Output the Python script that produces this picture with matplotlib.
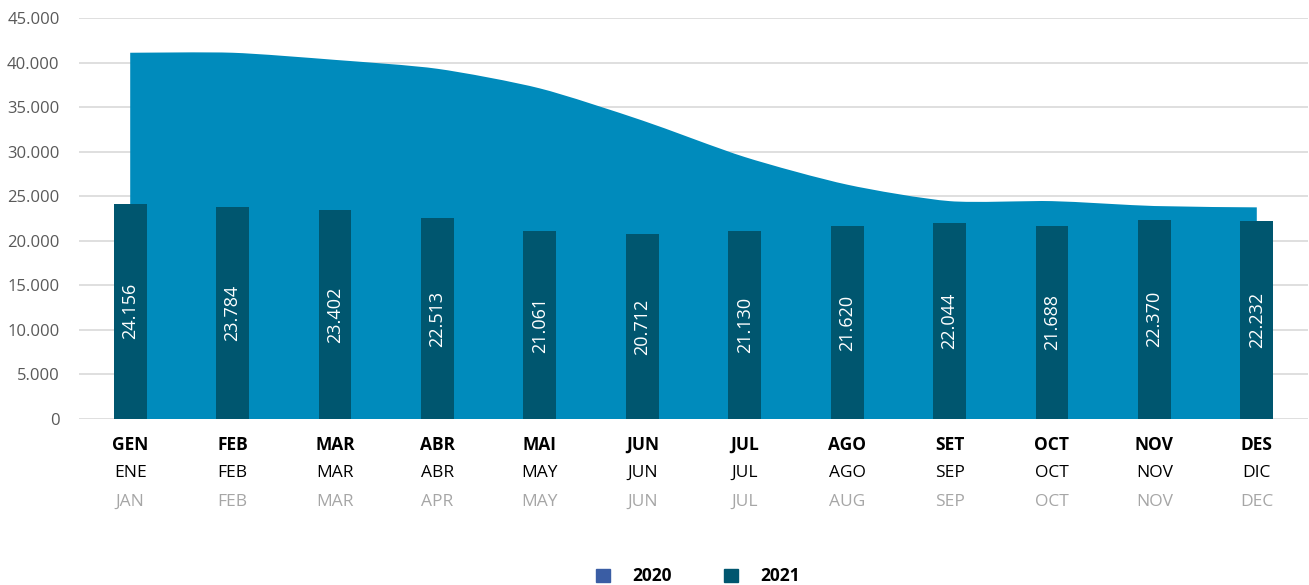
import numpy as np
import matplotlib
matplotlib.use("Agg")
import matplotlib.pyplot as plt
from matplotlib.path import Path
from matplotlib.patches import PathPatch, Patch
from matplotlib.ticker import FuncFormatter, MultipleLocator
from matplotlib.transforms import blended_transform_factory

# dados
meses_cat = ["GEN", "FEB", "MAR", "ABR", "MAI", "JUN", "JUL", "AGO", "SET", "OCT", "NOV", "DES"]
meses_esp = ["ENE", "FEB", "MAR", "ABR", "MAY", "JUN", "JUL", "AGO", "SEP", "OCT", "NOV", "DIC"]
meses_eng = ["JAN", "FEB", "MAR", "APR", "MAY", "JUN", "JUL", "AUG", "SEP", "OCT", "NOV", "DEC"]
valores_2020 = [41100, 41100, 40300, 39300, 37100, 33500, 29400, 26300, 24450, 24450, 23900, 23750]
valores_2021 = [24156, 23784, 23402, 22513, 21061, 20712, 21130, 21620, 22044, 21688, 22370, 22232]

cor_area = "#008BBC"
cor_barra = "#00566F"
cor_leg2020 = "#3A5DA4"

plt.rcParams['font.family'] = ['Open Sans', 'DejaVu Sans']

fig = plt.figure(figsize=(13.09, 5.85), dpi=100)
ax = fig.add_axes([79/1309, 166/585, 1229/1309, 401/585])

x = np.arange(len(meses_cat))
y20 = np.array(valores_2020, dtype=float)

# curva suavizada (bezier) para a area de 2020
verts = [(x[0], 0), (x[0], y20[0])]
codes = [Path.MOVETO, Path.LINETO]
n = len(x)
for i in range(n - 1):
    p0 = np.array([x[max(i - 1, 0)], y20[max(i - 1, 0)]])
    p1 = np.array([x[i], y20[i]])
    p2 = np.array([x[i + 1], y20[i + 1]])
    p3 = np.array([x[min(i + 2, n - 1)], y20[min(i + 2, n - 1)]])
    c1 = p1 + (p2 - p0) / 8
    c2 = p2 - (p3 - p1) / 8
    verts += [tuple(c1), tuple(c2), tuple(p2)]
    codes += [Path.CURVE4] * 3
verts += [(x[-1], 0), (x[0], 0)]
codes += [Path.LINETO, Path.CLOSEPOLY]
ax.add_patch(PathPatch(Path(verts, codes), facecolor=cor_area, edgecolor="none", zorder=2))

bars = ax.bar(x, valores_2021, width=0.32, color=cor_barra, zorder=3)
for xi, v in zip(x, valores_2021):
    ax.text(xi, v / 2, f"{v/1000:.3f}", rotation=90, ha="center", va="center",
            color="white", fontsize=13, zorder=4)

ax.set_xlim(-0.5, n - 0.5)
ax.set_ylim(0, 45000)
ax.yaxis.set_major_locator(MultipleLocator(5000))
ax.yaxis.set_major_formatter(FuncFormatter(lambda v, p: "0" if v == 0 else f"{int(v):,}".replace(",", ".")))
ax.tick_params(axis="y", length=0, labelsize=12, labelcolor="#595959", pad=14)
ax.set_xticks([])
ax.grid(axis="y", color="#D9D9D9", linewidth=1.2, zorder=0)
ax.set_axisbelow(True)
for s in ax.spines.values():
    s.set_visible(False)

# rotulos dos meses em tres idiomas
trans = blended_transform_factory(ax.transData, ax.transAxes)
for xi, a, b, c in zip(x, meses_cat, meses_esp, meses_eng):
    ax.text(xi, -0.065, a, transform=trans, ha="center", va="center", fontsize=12.5,
            fontweight="bold", color="black")
    ax.text(xi, -0.135, b, transform=trans, ha="center", va="center", fontsize=12.5, color="black")
    ax.text(xi, -0.207, c, transform=trans, ha="center", va="center", fontsize=12.5, color="#A6A6A6")

handles = [Patch(color=cor_leg2020, label="2020"), Patch(color=cor_barra, label="2021")]
fig.legend(handles=handles, loc="center", bbox_to_anchor=(0.533, 0.015), ncol=2, frameon=False,
           handlelength=0.8, handleheight=0.8, columnspacing=3.0, handletextpad=1.3,
           prop={"weight": "bold", "size": 12.5})

fig.savefig("out.png", dpi=100)
